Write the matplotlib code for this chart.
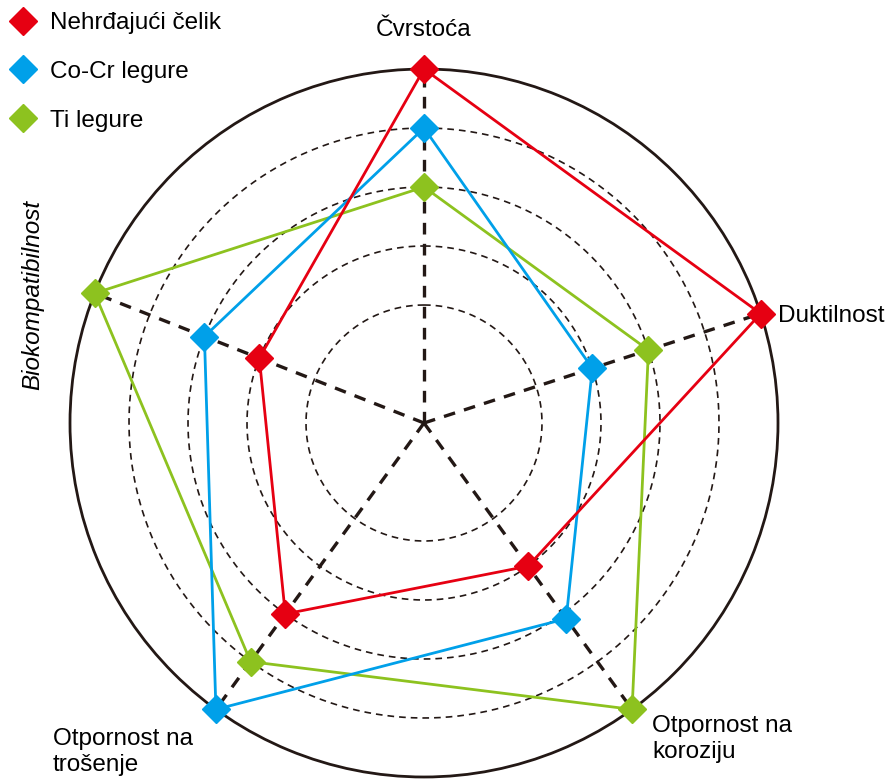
import numpy as np
import matplotlib.pyplot as plt
from matplotlib.lines import Line2D

plt.rcParams['font.family'] = ['Liberation Sans', 'DejaVu Sans']

# data
categories = ['Čvrstoća', 'Duktilnost', 'Otpornost na\nkoroziju',
              'Otpornost na\ntrošenje', 'Biokompatibilnost']
axis_deg = [0, 72, 144, 216, 291.5]  # clockwise from top, as drawn in the source
series_names = ['Nehrđajući čelik', 'Co-Cr legure', 'Ti legure']
steel = [6, 6, 3, 4, 3]
cocr = [5, 3, 4.1, 6, 4]
ti = [4, 4, 6, 5, 6]
rings = [2, 3, 4, 5]
rmax = 6

colors = ['#E60012', '#00A0E9', '#8DC21F']

fig = plt.figure(figsize=(8.86, 7.82), dpi=100)
# polar axes placed so the centre sits where the reference has it
ax = fig.add_axes([70 / 886, 5 / 782, 708 / 886, 708 / 782], projection='polar')
ax.set_theta_offset(np.pi / 2)
ax.set_theta_direction(-1)
ax.set_ylim(0, rmax)
ax.grid(False)
ax.set_xticks([])
ax.set_yticks([])
ax.spines['polar'].set_linewidth(2.0)
ax.spines['polar'].set_color('#231815')

angles = np.deg2rad(axis_deg)

# dashed rings
tt = np.linspace(0, 2 * np.pi, 400)
for r in rings:
    ax.plot(tt, np.full_like(tt, r), color='#231815', lw=1.2,
            ls=(0, (4, 3)), zorder=1)

# spokes
for a in angles:
    ax.plot([a, a], [0, rmax], color='#231815', lw=2.4,
            ls=(0, (3.5, 2.8)), zorder=1)

# series
for vals, c in zip([ti, cocr, steel], [colors[2], colors[1], colors[0]]):
    th = np.append(angles, angles[0])
    rv = np.append(vals, vals[0])
    ax.plot(th, rv, color=c, lw=2.0, zorder=3, clip_on=False)
    ax.plot(angles, vals, ls='none', marker='D', ms=14, color=c,
            mec=c, zorder=4, clip_on=False)

# axis labels (figure pixel positions)
W, H = 886, 782
fs = 17.5
fig.text(424 / W, 1 - 30 / H, categories[0], ha='center', va='center', fontsize=fs)
fig.text(778 / W, 1 - 316 / H, categories[1], ha='left', va='center', fontsize=fs)
fig.text(652 / W, 1 - 739 / H, categories[2], ha='left', va='center', fontsize=fs,
         linespacing=1.2)
fig.text(53 / W, 1 - 752 / H, categories[3], ha='left', va='center', fontsize=fs,
         linespacing=1.2)
fig.text(33 / W, 1 - 295 / H, categories[4], ha='center', va='center', fontsize=fs,
         rotation=90, style='italic')

# legend
handles = [Line2D([], [], ls='none', marker='D', ms=14, color=c) for c in colors]
fig.legend(handles, series_names, loc='upper left', bbox_to_anchor=(0.003, 1.0),
           frameon=False, fontsize=fs, handlelength=0.7, handletextpad=0.75,
           labelspacing=1.1, borderaxespad=0.1)

fig.savefig('out.png', dpi=100)
